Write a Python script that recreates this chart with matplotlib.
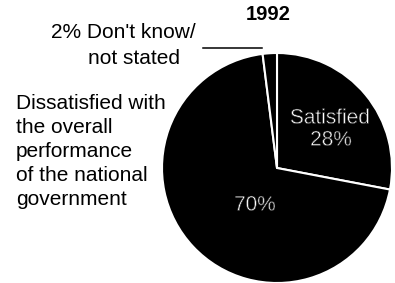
import matplotlib
matplotlib.use("Agg")
import matplotlib.pyplot as plt
from matplotlib import patheffects as pe

# data
title = "1992"
labels = ["Satisfied", "Dissatisfied", "Don't know/not stated"]
shares = [28, 70, 2]

W, H = 395, 283
fig = plt.figure(figsize=(W / 100, H / 100), dpi=100)
ax = fig.add_axes([0, 0, 1, 1])

cx, cy, r = 277, H - 168, 115

ax.pie(shares, startangle=90, counterclock=False, colors=["black"] * 3,
       center=(cx, cy), radius=r, frame=True,
       wedgeprops=dict(edgecolor="white", linewidth=1.5))
ax.set_xlim(0, W)
ax.set_ylim(0, H)
ax.set_aspect("equal")
ax.axis("off")

font = "Liberation Sans"
fs = 15
thin = [pe.Normal(), pe.Stroke(linewidth=0.45, foreground="black")]

ax.text(268, H - 15, title, ha="center", va="center", fontsize=14.5,
        fontweight="bold", family=font)

# labels inside the pie
ax.text(330, H - 118, labels[0], ha="center", va="center", fontsize=fs,
        color="white", family=font, path_effects=thin)
ax.text(331, H - 140, f"{shares[0]}%", ha="center", va="center", fontsize=fs,
        color="white", family=font, path_effects=thin)
ax.text(255, H - 205, f"{shares[1]}%", ha="center", va="center", fontsize=fs,
        color="white", family=font, path_effects=thin)

# outside labels
ax.text(16, H - 205, "Dissatisfied with\nthe overall\nperformance\nof the national\ngovernment",
        ha="left", va="baseline", fontsize=fs, family=font, linespacing=1.34)
ax.text(123, H - 33, f"{shares[2]}% Don't know/", ha="center", va="center",
        fontsize=fs, family=font)
ax.text(134, H - 58, "not stated", ha="center", va="center",
        fontsize=fs, family=font)
ax.plot([203, 262], [H - 48, H - 48], color="black", linewidth=1.1)

fig.savefig("out.png", dpi=100)
